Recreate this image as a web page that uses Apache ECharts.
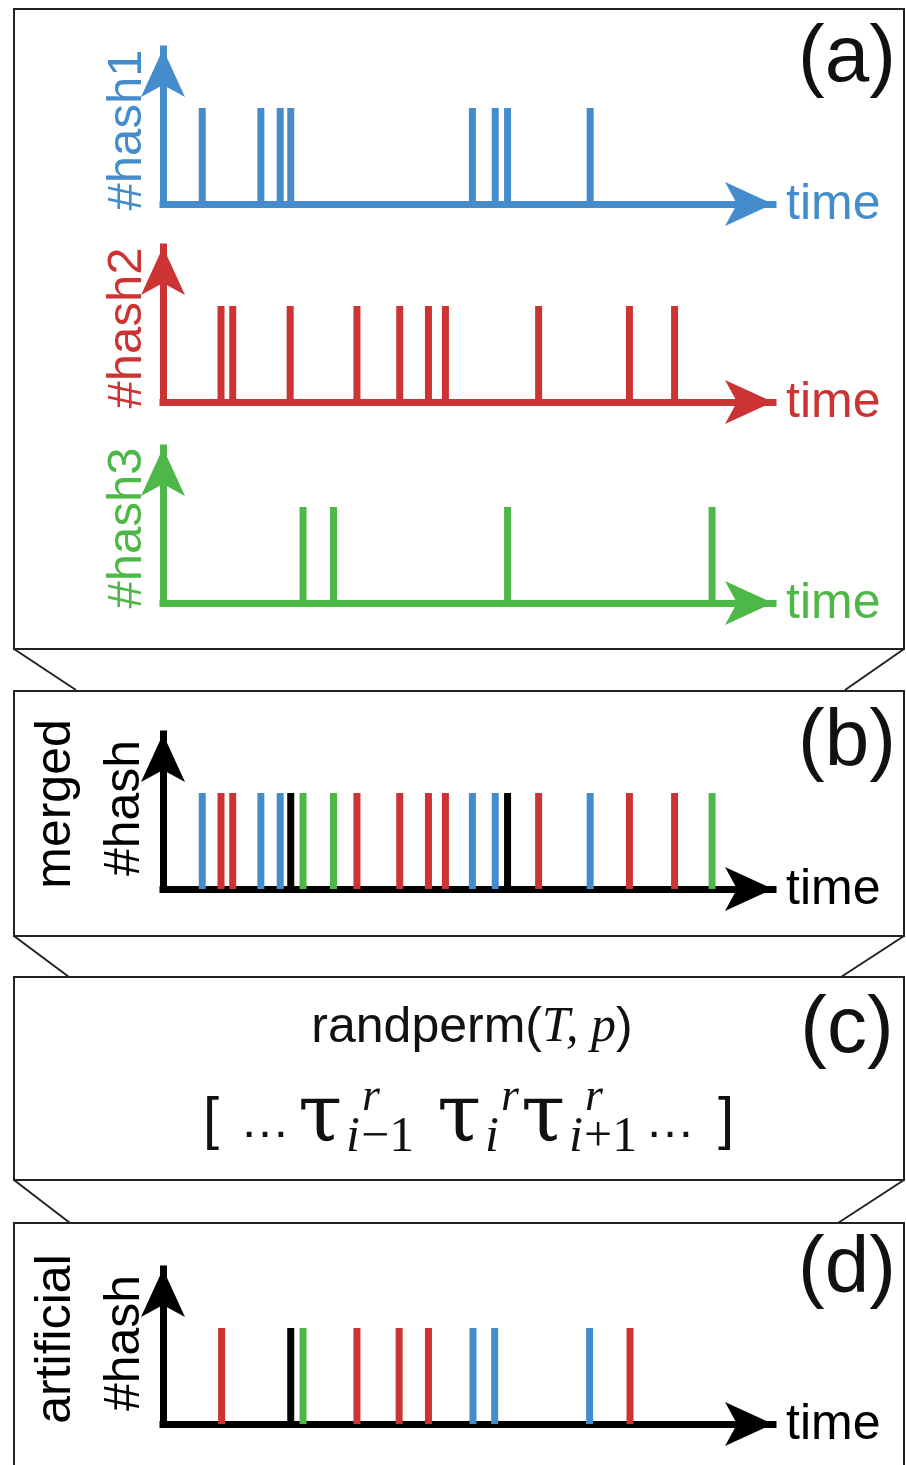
<!DOCTYPE html>
<html>
<head>
<meta charset="utf-8">
<script src="https://cdn.jsdelivr.net/npm/echarts@6/dist/echarts.min.js"></script>
<style>
html,body{margin:0;padding:0;background:#fff;}
#chart{width:906px;height:1465px;}
</style>
</head>
<body>
<div id="chart"></div>
<script>
// ---- data (time in arbitrary units) ----
const hash1Times = [6.7, 16.7, 20.0, 21.8, 52.8, 56.7, 58.8, 72.9];
const hash2Times = [9.9, 11.9, 21.7, 33.1, 40.4, 45.3, 48.2, 64.1, 79.6, 87.3];
const hash3Times = [23.9, 29.1, 58.8, 93.7];
const mergedTimes = [6.7, 9.9, 11.9, 16.7, 20.0, 21.8, 23.9, 29.1, 33.1, 40.4, 45.3, 48.2, 52.8, 56.7, 58.8, 64.1, 72.9, 79.6, 87.3, 93.7];
const mergedSource = ['hash1','hash2','hash2','hash1','hash1','multi','hash3','hash3','hash2','hash2','hash2','hash2','hash1','hash1','multi','hash2','hash1','hash2','hash2','hash3'];
const artificialTimes = [10.0, 21.8, 23.9, 33.1, 40.3, 45.3, 52.9, 56.6, 72.8, 79.7];
const artificialSource = ['hash2','multi','hash3','hash2','hash2','hash2','hash1','hash1','hash1','hash2'];
const spikeValue = 1;
const yAxisNames = ['#hash1', '#hash2', '#hash3', ['merged', '#hash'], ['artificial', '#hash']];
const xAxisName = 'time';
const panelTags = ['(a)', '(b)', '(c)', '(d)'];

// ---- styling / layout ----
const COLORS = {hash1:'#458ccc', hash2:'#cc3333', hash3:'#4db848', multi:'#000000'};
const FONT = "'Liberation Sans', Arial, Helvetica, sans-serif";
const SERIF = "'Liberation Serif', 'Times New Roman', serif";
const TAU = "'DejaVu Serif', serif";
const gridTops = [49, 247, 448, 734, 1269];
const GH = 155, GL = 163, GW = 610;
const X_MAX = 104.1, Y_MAX = 1.615;
const axisColors = [COLORS.hash1, COLORS.hash2, COLORS.hash3, '#000', '#000'];

const panels = [
  {times: hash1Times, src: hash1Times.map(()=> 'hash1')},
  {times: hash2Times, src: hash2Times.map(()=> 'hash2')},
  {times: hash3Times, src: hash3Times.map(()=> 'hash3')},
  {times: mergedTimes, src: mergedSource},
  {times: artificialTimes, src: artificialSource}
];

const chart = echarts.init(document.getElementById('chart'), null, {renderer:'canvas'});

const grid = gridTops.map(t => ({left: GL, top: t, width: GW, height: GH}));
const axisBase = (i) => ({
  gridIndex: i, type: 'value', min: 0,
  axisLine: {show: true, onZero: false, symbol: ['none', 'arrow'], symbolSize: [33, 48],
    lineStyle: {color: axisColors[i], width: 7, cap: 'square'}},
  axisTick: {show: false}, axisLabel: {show: false}, splitLine: {show: false}
});
const xAxis = gridTops.map((t, i) => Object.assign(axisBase(i), {max: X_MAX}));
const yAxis = gridTops.map((t, i) => Object.assign(axisBase(i), {max: Y_MAX}));
const series = panels.map((p, i) => ({
  type: 'bar', xAxisIndex: i, yAxisIndex: i, barWidth: 7, z: 1,
  data: p.times.map((t, k) => ({value: [t, spikeValue], itemStyle: {color: COLORS[p.src[k]]}}))
}));

// ---- decorations ----
const g = [];
const BOX = '#222';
function rect(x, y, w, h) { g.push({type:'rect', z:0, shape:{x, y, width:w, height:h}, style:{fill:'none', stroke:BOX, lineWidth:2}}); }
function line(x1, y1, x2, y2) { g.push({type:'line', z:0, shape:{x1, y1, x2, y2}, style:{stroke:BOX, lineWidth:2}}); }
function txt(x, y, text, font, color, rot) {
  g.push({type:'text', z:10, x, y, rotation: rot || 0, style:{text, font, fill:color, textAlign:'center', textVerticalAlign:'middle'}});
}
rect(14, 9, 890, 640);
line(14, 649, 76, 690); line(904, 649, 845, 690);
rect(14, 691, 890, 245);
line(14, 936, 69, 977); line(904, 936, 841, 977);
rect(14, 977, 890, 203);
line(14, 1180, 70, 1223); line(904, 1180, 838, 1223);
rect(14, 1223, 890, 260);

// panel tags
const tagY = [59, 743, 1030, 1270];
panelTags.forEach((t, i) => txt(847, tagY[i], t, '80px ' + FONT, '#111'));

// x axis names
const baseY = gridTops.map(t => t + GH);
baseY.forEach((b, i) => {
  g.push({type:'text', z:10, x: 786, y: b + 1, style:{text: xAxisName, font: '50px ' + FONT, fill: axisColors[i], textAlign:'left', textVerticalAlign:'middle'}});
});
// y axis names (rotated)
const yNameCY = [130, 328, 528, 806, 1341];
yAxisNames.forEach((n, i) => {
  if (Array.isArray(n)) {
    txt(56, yNameCY[i] - 2, n[0], '50px ' + FONT, '#000', Math.PI/2);
    txt(125, yNameCY[i] + 2, n[1], '50px ' + FONT, '#000', Math.PI/2);
  } else {
    txt(127, yNameCY[i], n, '49px ' + FONT, axisColors[i], Math.PI/2);
  }
});

// panel (c) formula
g.push({type:'text', z:10, x: 472, y: 1028, style:{
  text: '{s|randperm(}{i|T, p}{s|)}', textAlign:'center', textVerticalAlign:'middle',
  rich: {s:{font: '50px ' + FONT, fill:'#111'}, i:{font: 'italic 50px ' + SERIF, fill:'#111'}}
}});
function tl(x, y, text, font) { g.push({type:'text', z:10, x, y, style:{text, font, fill:'#111', textAlign:'left', textVerticalAlign:'middle'}}); }
tl(203, 1122, '[', '58px ' + FONT);
tl(240, 1123, '\u2026', '50px ' + FONT);
tl(645, 1123, '\u2026', '50px ' + FONT);
tl(718, 1122, ']', '58px ' + FONT);
const tauGroups = [
  {x: 298, sub: 'i', subTail: '\u22121'},
  {x: 437, sub: 'i', subTail: ''},
  {x: 521, sub: 'i', subTail: '+1'}
];
tauGroups.forEach(t => {
  tl(t.x, 1120, '\u03c4', '80px ' + TAU);
  tl(t.x + 64, 1098, 'r', 'italic 46px ' + SERIF);
  tl(t.x + 48, 1138, t.sub, 'italic 50px ' + SERIF);
  if (t.subTail) tl(t.x + 63, 1138, t.subTail, '50px ' + SERIF);
});

chart.setOption({animation: false, grid, xAxis, yAxis, series, graphic: g});
</script>
</body>
</html>
